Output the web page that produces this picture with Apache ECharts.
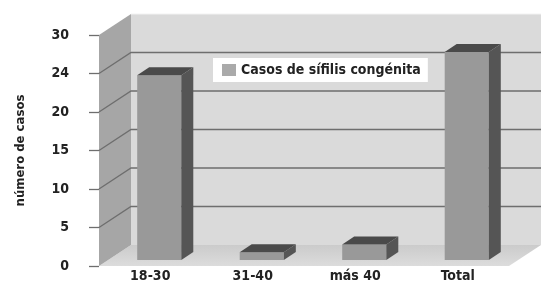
<!DOCTYPE html>
<html>
<head>
<meta charset="utf-8">
<script src="https://cdn.jsdelivr.net/npm/echarts@6/dist/echarts.min.js"></script>
<style>
  html, body { margin: 0; padding: 0; background: #fff; }
  #chart { width: 542px; height: 285px; }
</style>
</head>
<body>
<div id="chart"></div>
<script>
var categories = ['18-30', '31-40', 'más 40', 'Total'];
var casos = [24, 1, 2, 27];
var tickValues = [0, 5, 10, 15, 20, 25, 30];
var tickLabels = ['0', '5', '10', '15', '20', '24', '30'];

var DX = 32, DY = -21;          // profundidad del fondo
var FONT = "'DejaVu Sans Condensed', 'Liberation Sans Narrow', sans-serif";

var myChart = echarts.init(document.getElementById('chart'));

// paredes: lateral izquierda, fondo y suelo
function renderWalls(params, api) {
    var cs = params.coordSys;
    var l = cs.x, r = cs.x + cs.width, t = cs.y, b = cs.y + cs.height;
    return {
        type: 'group',
        children: [
            { type: 'polygon', shape: { points: [[l + DX, t + DY], [r + DX, t + DY], [r + DX, b + DY], [l + DX, b + DY]] },
              style: { fill: '#dadada' } },
            { type: 'polygon', shape: { points: [[l, b], [r, b], [r + DX, b + DY], [l + DX, b + DY]] },
              style: { fill: new echarts.graphic.LinearGradient(0, 0, 0, 1, [
                  { offset: 0, color: '#cbcbcb' }, { offset: 1, color: '#dcdcdc' }]) } },
            { type: 'polygon', shape: { points: [[l, t], [l + DX, t + DY], [l + DX, b + DY], [l, b]] },
              style: { fill: '#a6a6a6' } },
            { type: 'line', shape: { x1: l + DX, y1: t + DY, x2: r + DX, y2: t + DY },
              style: { stroke: '#f2f2f2', lineWidth: 1 } }
        ]
    };
}

// lineas de division en pared lateral y fondo
function renderGrid(params, api) {
    var cs = params.coordSys;
    var v = api.value(1);
    if (v === 0 || v === 30) return;
    var y = api.coord([0, v])[1];
    var l = cs.x, r = cs.x + cs.width;
    return {
        type: 'polyline',
        shape: { points: [[l, y], [l + DX, y + DY], [r + DX, y + DY]] },
        style: { stroke: '#6e6e6e', lineWidth: 1.3, fill: null }
    };
}

function renderBar(params, api) {
    var i = api.value(0), v = api.value(1);
    var base = api.coord([i, 0]);
    var top = api.coord([i, v]);
    var band = api.size([1, 0])[0];
    var w = band * 0.43;
    var xl = base[0] + 9 - w / 2, xr = xl + w;
    var yb = base[1] - 6, yt = top[1] - 6;
    var bx = 12, by = -8;
    return {
        type: 'group',
        children: [
            { type: 'rect', shape: { x: xl, y: yt, width: w, height: yb - yt }, style: { fill: '#999999' } },
            { type: 'polygon', shape: { points: [[xr, yt], [xr + bx, yt + by], [xr + bx, yb + by], [xr, yb]] },
              style: { fill: '#555555' } },
            { type: 'polygon', shape: { points: [[xl, yt], [xr, yt], [xr + bx, yt + by], [xl + bx, yt + by]] },
              style: { fill: '#4a4a4a' } }
        ]
    };
}

var option = {
    animation: false,
    backgroundColor: '#fff',
    grid: { left: 99, right: 33, top: 35, bottom: 19 },
    legend: {
        data: ['Casos de sífilis congénita'],
        left: 213, top: 58,
        backgroundColor: '#fff',
        padding: [5, 7, 5, 9],
        itemWidth: 14, itemHeight: 12,
        icon: 'rect',
        textStyle: { fontFamily: FONT, fontWeight: 'bold', fontSize: 14, color: '#222' }
    },
    xAxis: {
        type: 'category',
        data: categories,
        axisLine: { show: false },
        axisTick: { show: false },
        axisLabel: { fontFamily: FONT, fontWeight: 'bold', fontSize: 14, color: '#222', margin: 3 }
    },
    yAxis: {
        type: 'value',
        min: 0, max: 30, interval: 5,
        name: 'número de casos',
        nameLocation: 'middle',
        nameGap: 72,
        nameTextStyle: { fontFamily: FONT, fontWeight: 'bold', fontSize: 13, color: '#222' },
        axisLine: { show: false },
        axisTick: { show: true, length: 10, lineStyle: { color: '#6e6e6e', width: 1.3 } },
        splitLine: { show: false },
        axisLabel: {
            fontFamily: FONT, fontWeight: 'bold', fontSize: 14, color: '#222', margin: 30,
            formatter: function (val) { return tickLabels[tickValues.indexOf(val)]; }
        }
    },
    series: [
        { type: 'custom', name: 'walls', renderItem: renderWalls, data: [[0, 0]], z: 1, silent: true },
        { type: 'custom', name: 'grid', renderItem: renderGrid,
          data: tickValues.map(function (v) { return [0, v]; }), z: 2, silent: true },
        { type: 'custom', name: 'Casos de sífilis congénita', renderItem: renderBar,
          itemStyle: { color: '#aaaaaa' },
          data: casos.map(function (v, i) { return [i, v]; }), z: 3 }
    ]
};
myChart.setOption(option);
</script>
</body>
</html>
